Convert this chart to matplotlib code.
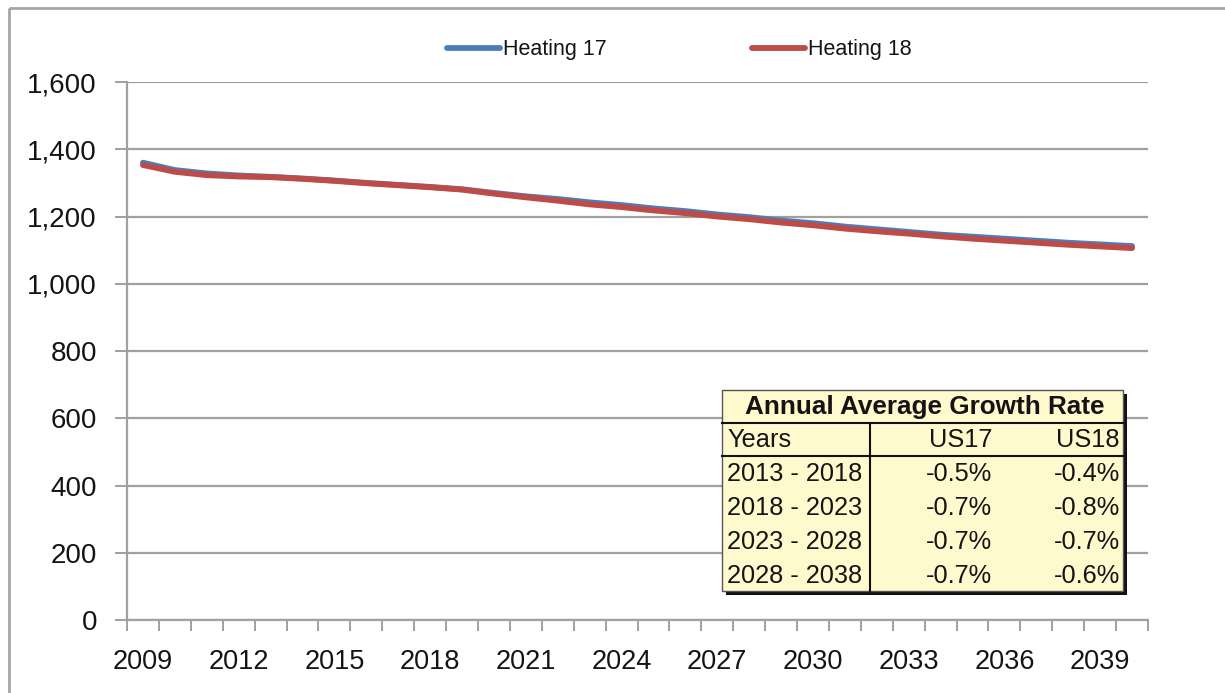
import matplotlib
matplotlib.use("Agg")
import matplotlib.pyplot as plt
from matplotlib.patches import Rectangle

# ---- data ----
years = list(range(2009, 2041))
heating17 = [1360, 1338, 1328, 1322, 1318, 1313, 1307, 1300, 1294, 1288, 1281, 1270,
             1260, 1252, 1242, 1234, 1224, 1216, 1206, 1198, 1188, 1180, 1170, 1162,
             1154, 1146, 1140, 1134, 1128, 1122, 1117, 1112]
heating18 = [1353, 1333, 1323, 1319, 1317, 1312, 1306, 1299, 1293, 1287, 1280, 1268,
             1257, 1247, 1236, 1228, 1218, 1210, 1200, 1192, 1182, 1174, 1164, 1156,
             1149, 1141, 1134, 1128, 1122, 1116, 1111, 1106]
series_names = ["Heating 17", "Heating 18"]
y_ticks = [0, 200, 400, 600, 800, 1000, 1200, 1400, 1600]

table_title = "Annual Average Growth Rate"
table_header = ["Years", "US17", "US18"]
table_periods = ["2013 - 2018", "2018 - 2023", "2023 - 2028", "2028 - 2038"]
table_us17 = ["-0.5%", "-0.7%", "-0.7%", "-0.7%"]
table_us18 = ["-0.4%", "-0.8%", "-0.7%", "-0.6%"]

# ---- style ----
W, H = 1225, 693
plt.rcParams['font.family'] = ['Liberation Sans', 'DejaVu Sans']
fig = plt.figure(figsize=(W / 100, H / 100), dpi=100)
fig.patch.set_facecolor("white")

def fx(px):
    return px / W

def fy(py):
    return 1 - py / H

L, R, T, B = 127, 1148, 82, 620
ax = fig.add_axes([fx(L), fy(B), fx(R) - fx(L), fy(T) - fy(B)])
ax.set_facecolor("none")

blue = "#4A7EBB"
red = "#BE4B48"
grid_c = "#A0A0A0"
txt_c = "#141414"

x = [i + 0.5 for i in range(len(years))]
ax.plot(x, heating17, color=blue, lw=4.2, solid_capstyle="round", zorder=3)
ax.plot(x, heating18, color=red, lw=4.2, solid_capstyle="round", zorder=4)

ax.set_xlim(0, len(years))
ax.set_ylim(0, 1600)
ax.set_yticks(y_ticks)
ax.set_yticklabels([f"{v:,}" for v in y_ticks])
ax.yaxis.grid(True, color=grid_c, lw=1.6)
ax.set_axisbelow(True)

label_idx = list(range(0, len(years), 3))
ax.set_xticks([i + 0.5 for i in label_idx])
ax.set_xticklabels([str(years[i]) for i in label_idx])
ax.set_xticks(list(range(len(years) + 1)), minor=True)
ax.tick_params(axis="x", which="major", length=0, pad=21, labelsize=19.5, labelcolor=txt_c)
ax.tick_params(axis="x", which="minor", length=8, width=1.4, color=grid_c, direction="out")
ax.tick_params(axis="y", which="major", length=8.6, width=1.4, color=grid_c, pad=13,
               labelsize=20, labelcolor=txt_c)

for s in ["top", "right"]:
    ax.spines[s].set_visible(False)
ax.spines["left"].set_color(grid_c)
ax.spines["left"].set_linewidth(1.6)
ax.spines["bottom"].set_color(grid_c)
ax.spines["bottom"].set_linewidth(1.6)

# overlay axes in pixel coordinates for border, legend and table
ov = fig.add_axes([0, 0, 1, 1], facecolor="none")
ov.set_xlim(0, W)
ov.set_ylim(H, 0)
ov.axis("off")

# outer border
ov.add_patch(Rectangle((9, 8), 1400, 1000, fill=False, edgecolor="#A6A6A6", lw=2, zorder=1))

# legend
leg_x = [447, 752]
for lx, name, col in zip(leg_x, series_names, [blue, red]):
    ov.plot([lx, lx + 53], [48, 48], color=col, lw=4.2, solid_capstyle="round")
    ov.text(lx + 56, 49, name, ha="left", va="center", fontsize=15.5, color=txt_c)

# ---- growth-rate table ----
tx0, ty0, tx1, ty1 = 722, 390, 1123, 591
ov.add_patch(Rectangle((tx0 + 4, ty0 + 4), tx1 - tx0, ty1 - ty0, facecolor="#111111",
                       edgecolor="none", zorder=2))
ov.add_patch(Rectangle((tx0, ty0), tx1 - tx0, ty1 - ty0, facecolor="#FFFACD",
                       edgecolor="#555555", lw=1.0, zorder=3))
ov.plot([tx0, tx1], [423, 423], color="#111111", lw=1.5, zorder=4)
ov.plot([tx0, tx1], [456, 456], color="#111111", lw=1.5, zorder=4)
ov.plot([870, 870], [423, ty1], color="#111111", lw=1.5, zorder=4)

fs = 18.3
ov.text((tx0 + tx1) / 2 + 2, 407, table_title, ha="center", va="center", fontsize=18.8,
        fontweight="bold", color=txt_c, zorder=5)
ov.text(727, 440, table_header[0], ha="left", va="center", fontsize=fs, color=txt_c, zorder=5)
ov.text(992, 440, table_header[1], ha="right", va="center", fontsize=fs, color=txt_c, zorder=5)
ov.text(1120, 440, table_header[2], ha="right", va="center", fontsize=fs, color=txt_c, zorder=5)
for i, (p, a, b) in enumerate(zip(table_periods, table_us17, table_us18)):
    yc = 474 + i * 34
    ov.text(727, yc, p, ha="left", va="center", fontsize=fs, color=txt_c, zorder=5)
    ov.text(992, yc, a, ha="right", va="center", fontsize=fs, color=txt_c, zorder=5)
    ov.text(1120, yc, b, ha="right", va="center", fontsize=fs, color=txt_c, zorder=5)

fig.savefig("out.png", dpi=100)
